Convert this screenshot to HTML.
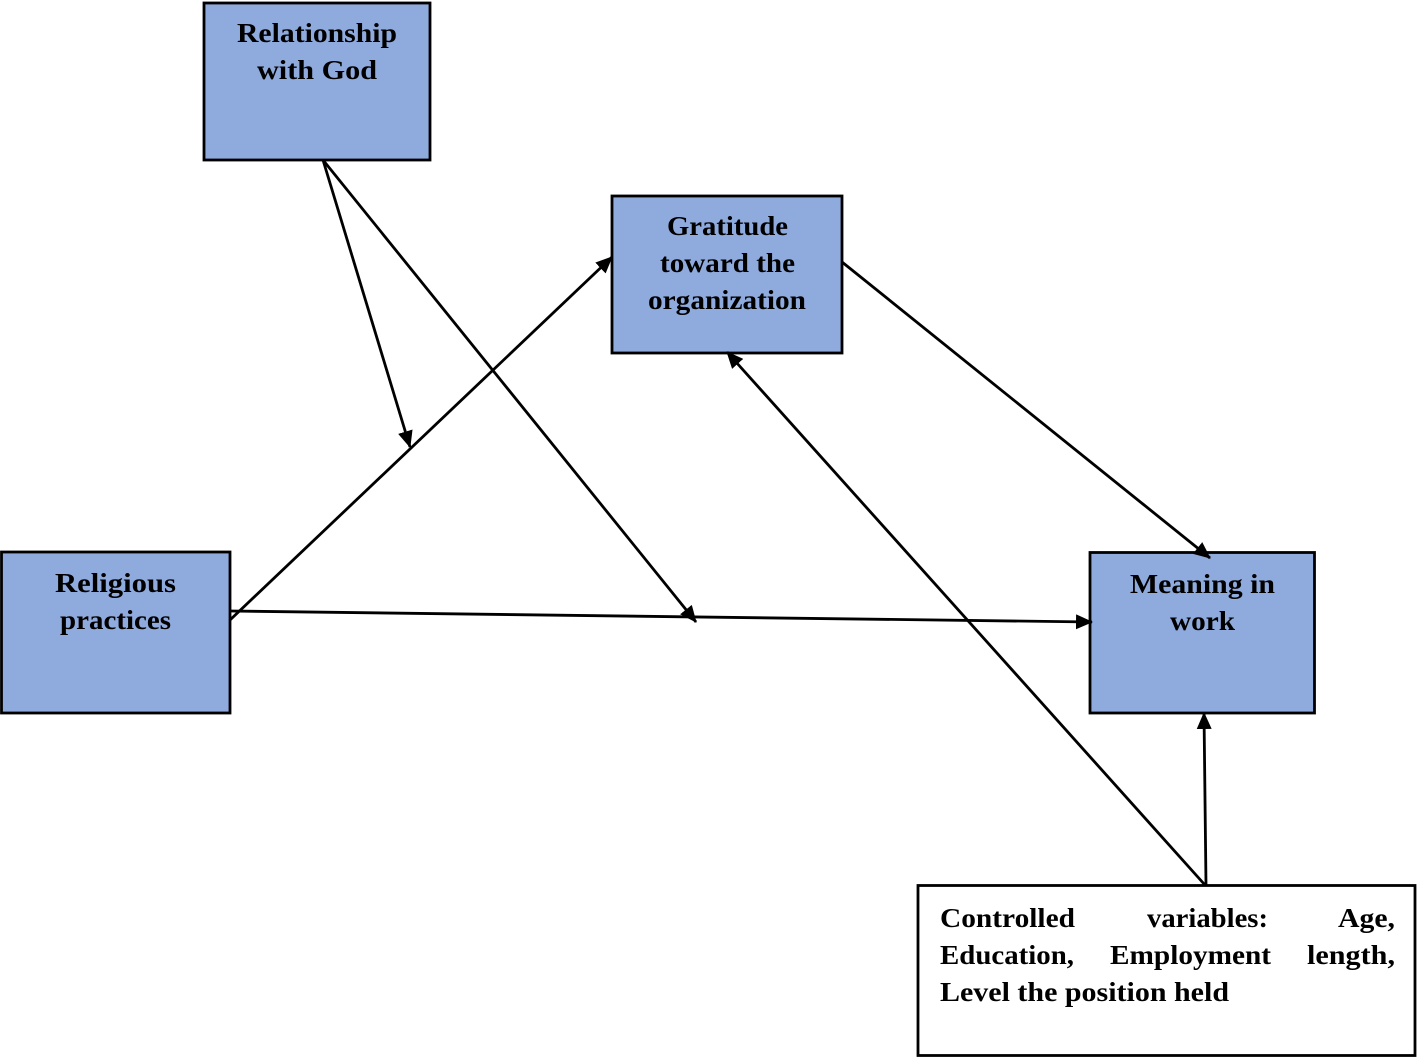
<!DOCTYPE html>
<html>
<head>
<meta charset="utf-8">
<style>
  html, body { margin: 0; padding: 0; background: #ffffff; }
  body { width: 1417px; height: 1058px; overflow: hidden; }
  svg { display: block; }
  text { font-family: "Liberation Serif", "DejaVu Serif", serif; font-weight: bold; font-size: 27px; fill: #000; }
</style>
</head>
<body>
<svg width="1417" height="1058" viewBox="0 0 1417 1058" xmlns="http://www.w3.org/2000/svg">
  <defs>
    <marker id="ah" markerUnits="userSpaceOnUse" markerWidth="17" markerHeight="15" refX="16" refY="7.5" orient="auto">
      <path d="M0,0 L17,7.5 L0,15 Z" fill="#000"/>
    </marker>
  </defs>

  <!-- Boxes -->
  <rect x="204" y="3" width="226" height="157" fill="#8faadc" stroke="#000" stroke-width="2.8"/>
  <rect x="612" y="196" width="230" height="157" fill="#8faadc" stroke="#000" stroke-width="2.8"/>
  <rect x="1.5" y="552" width="228.5" height="161" fill="#8faadc" stroke="#000" stroke-width="2.8"/>
  <rect x="1090" y="552.5" width="224.5" height="160.5" fill="#8faadc" stroke="#000" stroke-width="2.8"/>
  <rect x="918" y="885.5" width="497" height="170" fill="#ffffff" stroke="#000" stroke-width="2.8"/>

  <!-- Connectors -->
  <g stroke="#000" stroke-width="2.8" fill="none">
    <line x1="323" y1="160" x2="410" y2="447" marker-end="url(#ah)"/>
    <line x1="323" y1="160" x2="696" y2="622" marker-end="url(#ah)"/>
    <line x1="230" y1="620" x2="612" y2="257" marker-end="url(#ah)"/>
    <line x1="230" y1="611" x2="1092" y2="622" marker-end="url(#ah)"/>
    <line x1="842" y1="262" x2="1210" y2="558" marker-end="url(#ah)"/>
    <line x1="1205" y1="885" x2="727" y2="352" marker-end="url(#ah)"/>
    <line x1="1206" y1="885" x2="1204" y2="713" marker-end="url(#ah)"/>
  </g>

  <!-- Labels -->
  <text x="237" y="42" textLength="160" lengthAdjust="spacingAndGlyphs">Relationship</text>
  <text x="257" y="79" textLength="120" lengthAdjust="spacingAndGlyphs">with God</text>

  <text x="667" y="235" textLength="121" lengthAdjust="spacingAndGlyphs">Gratitude</text>
  <text x="660" y="272" textLength="135" lengthAdjust="spacingAndGlyphs">toward the</text>
  <text x="648" y="309" textLength="158" lengthAdjust="spacingAndGlyphs">organization</text>

  <text x="55" y="592" textLength="121" lengthAdjust="spacingAndGlyphs">Religious</text>
  <text x="60" y="629" textLength="111" lengthAdjust="spacingAndGlyphs">practices</text>

  <text x="1130" y="593" textLength="145" lengthAdjust="spacingAndGlyphs">Meaning in</text>
  <text x="1170" y="630" textLength="65" lengthAdjust="spacingAndGlyphs">work</text>

  <text x="940" y="927" textLength="135" lengthAdjust="spacingAndGlyphs">Controlled</text>
  <text x="1147" y="927" textLength="121" lengthAdjust="spacingAndGlyphs">variables:</text>
  <text x="1338" y="927" textLength="57" lengthAdjust="spacingAndGlyphs">Age,</text>

  <text x="940" y="964" textLength="134" lengthAdjust="spacingAndGlyphs">Education,</text>
  <text x="1110" y="964" textLength="161" lengthAdjust="spacingAndGlyphs">Employment</text>
  <text x="1307" y="964" textLength="88" lengthAdjust="spacingAndGlyphs">length,</text>

  <text x="940" y="1001" textLength="289" lengthAdjust="spacingAndGlyphs">Level the position held</text>
</svg>
</body>
</html>
